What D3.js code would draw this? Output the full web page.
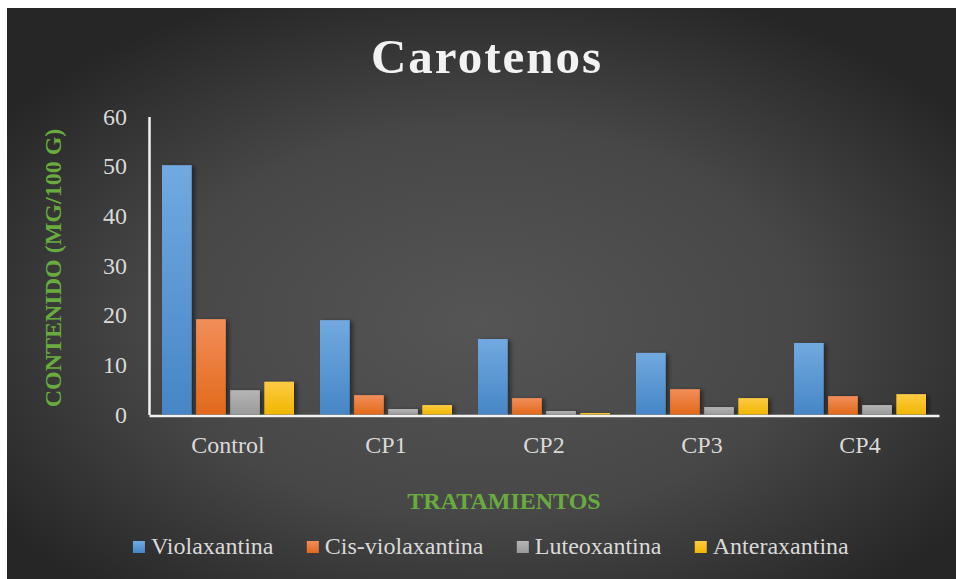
<!DOCTYPE html>
<html>
<head>
<meta charset="utf-8">
<script src="https://cdn.jsdelivr.net/npm/d3@7"></script>
<style>
  html, body { margin: 0; padding: 0; background: #fff; }
  svg { display: block; }
</style>
</head>
<body>
<div id="container"></div>
<script>
// Chart data
const categories = ["Control", "CP1", "CP2", "CP3", "CP4"];
const seriesNames = ["Violaxantina", "Cis-violaxantina", "Luteoxantina", "Anteraxantina"];
const violaxantina = [50.2, 19.0, 15.2, 12.4, 14.4];
const cisViolaxantina = [19.2, 3.9, 3.3, 5.1, 3.7];
const luteoxantina = [4.9, 1.1, 0.7, 1.5, 1.9];
const anteraxantina = [6.6, 1.9, 0.3, 3.3, 4.1];
const yTicks = [0, 10, 20, 30, 40, 50, 60];

const seriesValues = [violaxantina, cisViolaxantina, luteoxantina, anteraxantina];
const colorsTop = ["#72a9e0", "#f28e5a", "#b5b5b5", "#ffca45"];
const colorsBottom = ["#4686c6", "#e2691a", "#9a9a9a", "#efb700"];

// Dimensions
const width = 956;
const height = 579;
const plotLeft = 149;
const plotRight = 939;
const plotTop = 116.5;
const plotBottom = 414.5;

const svg = d3.select("#container").append("svg")
	.attr("width", width)
	.attr("height", height);

const defs = svg.append("defs");

// Background radial gradient
const bg = defs.append("radialGradient")
	.attr("id", "bg")
	.attr("cx", "0.5").attr("cy", "0.55").attr("r", "0.62");
bg.append("stop").attr("offset", "0%").attr("stop-color", "#555555");
bg.append("stop").attr("offset", "55%").attr("stop-color", "#474747");
bg.append("stop").attr("offset", "100%").attr("stop-color", "#262626");

// Bar gradients
seriesNames.forEach((s, i) => {
	const g = defs.append("linearGradient")
		.attr("id", "bar" + i)
		.attr("x1", 0).attr("y1", 0).attr("x2", 0).attr("y2", 1);
	g.append("stop").attr("offset", "0%").attr("stop-color", colorsTop[i]);
	g.append("stop").attr("offset", "100%").attr("stop-color", colorsBottom[i]);
});

// Bar shadow
const shadow = defs.append("filter")
	.attr("id", "shadow")
	.attr("x", "-30%").attr("y", "-10%").attr("width", "160%").attr("height", "120%");
shadow.append("feDropShadow")
	.attr("dx", 3).attr("dy", 1)
	.attr("stdDeviation", 2)
	.attr("flood-color", "#000")
	.attr("flood-opacity", 0.45);

svg.append("rect")
	.attr("x", 7).attr("y", 8)
	.attr("width", width - 7).attr("height", height - 8)
	.attr("fill", "url(#bg)");

// Scales
const x = d3.scaleBand()
	.domain(categories)
	.range([plotLeft, plotRight]);

const xs = d3.scaleBand()
	.domain(seriesNames)
	.range([13, x.bandwidth() - 13])
	.paddingInner(0.13);

const y = d3.scaleLinear()
	.domain([0, 60])
	.range([plotBottom, plotTop]);

// Bars
const groups = svg.append("g")
	.selectAll("g")
	.data(seriesNames)
	.join("g")
		.attr("fill", (d, i) => `url(#bar${i})`)
		.attr("filter", "url(#shadow)");

groups.selectAll("rect")
	.data((s, i) => seriesValues[i].map((v, j) => ({series: s, cat: categories[j], value: v})))
	.join("rect")
		.attr("x", d => x(d.cat) + xs(d.series))
		.attr("y", d => y(d.value))
		.attr("width", xs.bandwidth())
		.attr("height", d => y(0) - y(d.value));

// Axes
const yAxis = svg.append("g")
	.attr("transform", `translate(${plotLeft},0)`)
	.call(d3.axisLeft(y).tickValues(yTicks).tickSize(0).tickPadding(22));
yAxis.select(".domain")
	.attr("stroke", "#f2f2f2")
	.attr("stroke-width", 2.5);

const xAxis = svg.append("g")
	.attr("transform", `translate(0,${plotBottom + 1})`)
	.call(d3.axisBottom(x).tickSize(0).tickPadding(20));
xAxis.select(".domain")
	.attr("stroke", "#f2f2f2")
	.attr("stroke-width", 2.5);

svg.selectAll(".tick text")
	.attr("fill", "#d9d9d9")
	.style("font-family", "'Liberation Serif', 'Times New Roman', serif")
	.style("font-size", "24px");

// Title
svg.append("text")
	.attr("x", 487)
	.attr("y", 73)
	.attr("text-anchor", "middle")
	.attr("fill", "#f2f2f2")
	.style("font-family", "'Liberation Serif', 'Times New Roman', serif")
	.style("font-weight", "bold")
	.style("font-size", "49px")
	.style("letter-spacing", "2px")
	.text("Carotenos");

// Axis titles
svg.append("text")
	.attr("x", 504)
	.attr("y", 509)
	.attr("text-anchor", "middle")
	.attr("fill", "#6aab3f")
	.style("font-family", "'Liberation Serif', 'Times New Roman', serif")
	.style("font-weight", "bold")
	.style("font-size", "24px")
	.text("TRATAMIENTOS");

svg.append("text")
	.attr("transform", `translate(61,268) rotate(-90)`)
	.attr("text-anchor", "middle")
	.attr("fill", "#6aab3f")
	.style("font-family", "'Liberation Serif', 'Times New Roman', serif")
	.style("font-weight", "bold")
	.style("font-size", "24px")
	.text("CONTENIDO (MG/100 G)");

// Legend
const legend = svg.append("g");
const items = legend.selectAll("g")
	.data(seriesNames)
	.join("g");
items.append("rect")
	.attr("y", 541)
	.attr("width", 12).attr("height", 12)
	.attr("fill", (d, i) => `url(#bar${i})`);
items.append("text")
	.attr("x", 18)
	.attr("y", 554)
	.attr("fill", "#d9d9d9")
	.style("font-family", "'Liberation Serif', 'Times New Roman', serif")
	.style("font-size", "24px")
	.text(d => d);

let widths = [];
items.each(function() { widths.push(this.getBBox().width); });
const gap = 33;
const total = d3.sum(widths) + gap * (widths.length - 1);
let cx = 491 - total / 2;
items.attr("transform", (d, i) => {
	const t = `translate(${cx},0)`;
	cx += widths[i] + gap;
	return t;
});
</script>
</body>
</html>
